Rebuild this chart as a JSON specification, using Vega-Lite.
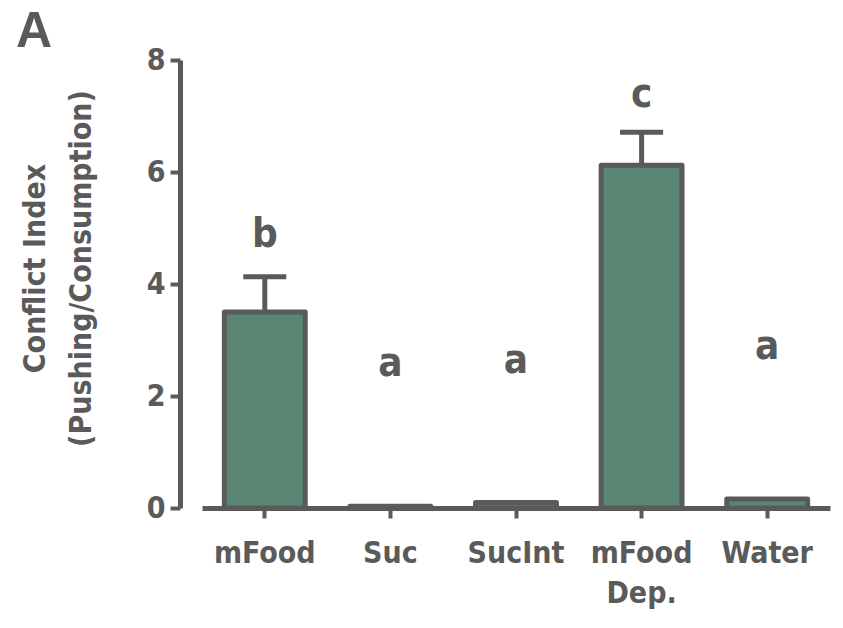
{
  "$schema": "https://vega.github.io/schema/vega-lite/v6.json",
  "autosize": {"type": "none"},
  "width": 663,
  "height": 448,
  "padding": {"left": 180, "top": 60, "right": 0, "bottom": 120},
  "background": "white",
  "title": {
    "text": "A",
    "anchor": "start",
    "frame": "group",
    "dx": -164,
    "dy": 52,
    "offset": 0,
    "baseline": "alphabetic",
    "fontSize": 50,
    "fontWeight": "bold",
    "font": "Liberation Sans",
    "color": "#5a5a5a"
  },
  "config": {
    "view": {"stroke": null},
    "font": "DejaVu Sans Condensed, Liberation Sans, sans-serif"
  },
  "data": {
    "values": [
      {"group": "mFood", "value": 3.5, "upper": 4.13, "sig": "b", "sig_y": 4.66},
      {"group": "Suc", "value": 0.03, "upper": 0.03, "sig": "a", "sig_y": 2.36},
      {"group": "SucInt", "value": 0.1, "upper": 0.1, "sig": "a", "sig_y": 2.41},
      {"group": "mFood Dep.", "value": 6.12, "upper": 6.71, "sig": "c", "sig_y": 7.16},
      {"group": "Water", "value": 0.16, "upper": 0.16, "sig": "a", "sig_y": 2.66}
    ]
  },
  "encoding": {
    "x": {
      "field": "group",
      "type": "nominal",
      "sort": null,
      "scale": {"range": [22, 650], "paddingInner": 0.356, "paddingOuter": 0.178},
      "axis": {
        "title": null,
        "labelAngle": 0,
        "labelExpr": "split(datum.label, ' ')",
        "labelFont": "DejaVu Sans Condensed, Liberation Sans, sans-serif",
        "labelFontSize": 30,
        "labelFontWeight": "bold",
        "labelColor": "#5a5a5a",
        "labelPadding": 20,
        "labelLineHeight": 40,
        "domainColor": "#5a5a5a",
        "domainWidth": 5,
        "tickColor": "#5a5a5a",
        "tickWidth": 4,
        "tickSize": 10,
        "grid": false
      }
    }
  },
  "layer": [
    {
      "mark": {"type": "rule", "stroke": "#5a5a5a", "strokeWidth": 5},
      "encoding": {
        "y": {"field": "value", "type": "quantitative"},
        "y2": {"field": "upper"}
      }
    },
    {
      "transform": [{"filter": "datum.upper > datum.value"}],
      "mark": {"type": "tick", "color": "#5a5a5a", "size": 43, "thickness": 5, "opacity": 1},
      "encoding": {
        "y": {"field": "upper", "type": "quantitative"}
      }
    },
    {
      "mark": {"type": "bar", "fill": "#5a8774", "stroke": "#5a5a5a", "strokeWidth": 5, "strokeJoin": "round"},
      "encoding": {
        "y": {
          "field": "value",
          "type": "quantitative",
          "scale": {"domain": [0, 8], "nice": false},
          "axis": {
            "values": [0, 2, 4, 6, 8],
            "format": "d",
            "title": ["Conflict Index", "(Pushing/Consumption)"],
            "titleFont": "DejaVu Sans Condensed, Liberation Sans, sans-serif",
            "titleFontSize": 30,
            "titleFontWeight": "bold",
            "titleColor": "#5a5a5a",
            "titleLineHeight": 46,
            "titlePadding": 50,
            "titleY": 208,
            "labelFont": "DejaVu Sans Condensed, Liberation Sans, sans-serif",
            "labelFontSize": 30,
            "labelFontWeight": "bold",
            "labelColor": "#5a5a5a",
            "labelPadding": 5,
            "domainColor": "#5a5a5a",
            "domainWidth": 5,
            "tickColor": "#5a5a5a",
            "tickWidth": 4,
            "tickSize": 10,
            "grid": false
          }
        }
      }
    },
    {
      "mark": {"type": "text", "font": "DejaVu Sans Condensed, Liberation Sans, sans-serif", "fontSize": 40, "fontWeight": "bold", "color": "#5a5a5a", "baseline": "alphabetic"},
      "encoding": {
        "y": {"field": "sig_y", "type": "quantitative"},
        "text": {"field": "sig"}
      }
    }
  ]
}
